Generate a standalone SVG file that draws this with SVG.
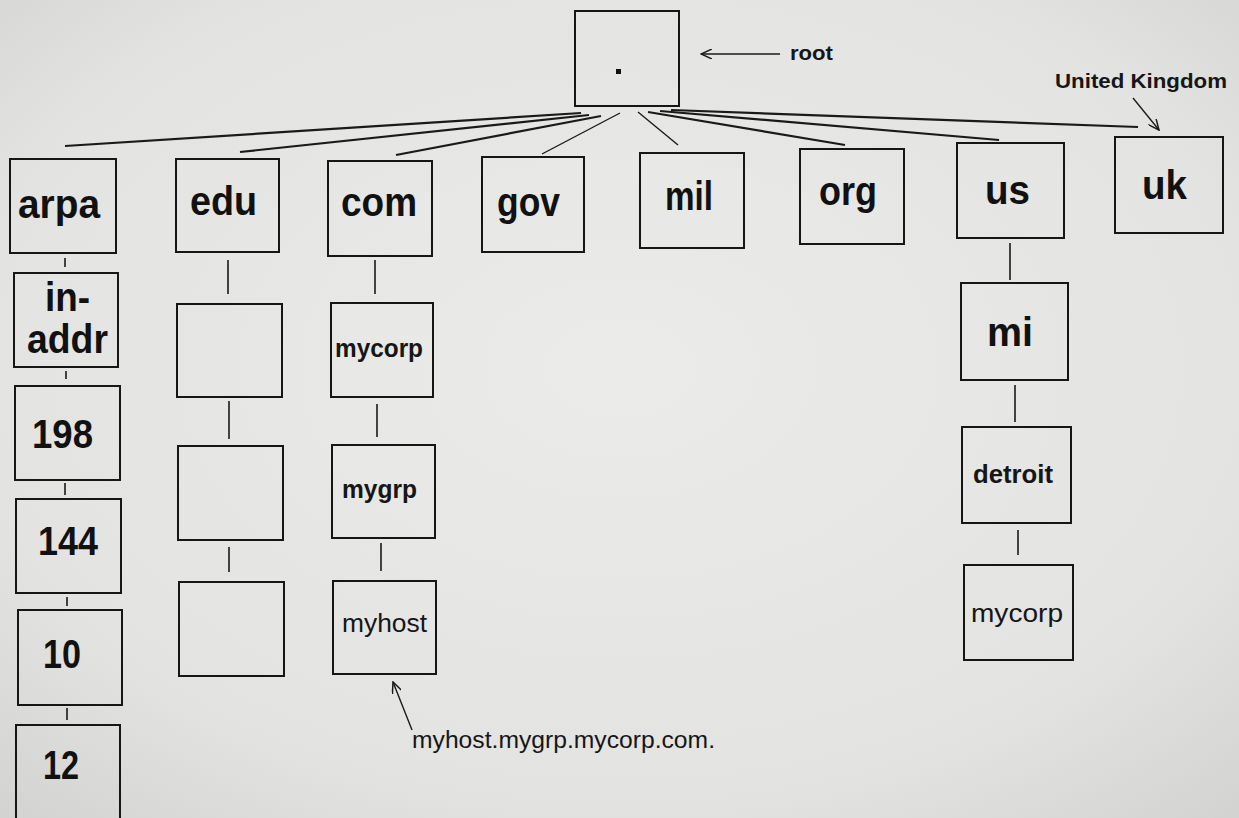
<svg xmlns="http://www.w3.org/2000/svg" width="1239" height="818" viewBox="0 0 1239 818">
  <defs>
    <radialGradient id="bg" cx="0.5" cy="0.45" r="0.75">
      <stop offset="0" stop-color="#ebebe9"/>
      <stop offset="0.7" stop-color="#e3e3e1"/>
      <stop offset="1" stop-color="#d2d2d0"/>
    </radialGradient>
    <marker id="arr" viewBox="0 0 12 10" refX="11" refY="5" markerWidth="12" markerHeight="10" markerUnits="userSpaceOnUse" orient="auto">
      <path d="M0,0 L11,5 L0,10" fill="none" stroke="#1a1a1a" stroke-width="1.5"/>
    </marker>
    <style>
      .box { fill: none; stroke: #161616; stroke-width: 2; }
      .ln { stroke: #1a1a1a; stroke-width: 2.2; fill: none; }
      .vl { stroke: #1a1a1a; stroke-width: 1.6; fill: none; }
      .an { stroke: #1a1a1a; stroke-width: 1.4; fill: none; }
      .big { font-family: "Liberation Sans", Arial, sans-serif; font-weight: bold; font-size: 41px; fill: #111; text-anchor: middle; }
      .mid { font-family: "Liberation Sans", Arial, sans-serif; font-weight: bold; font-size: 25px; fill: #161616; text-anchor: middle; }
      .reg { font-family: "Liberation Sans", Arial, sans-serif; font-weight: normal; font-size: 26px; fill: #161616; text-anchor: middle; }
      .lbl { font-family: "Liberation Sans", Arial, sans-serif; font-weight: bold; font-size: 20px; fill: #161616; }
      .lblr { font-family: "Liberation Sans", Arial, sans-serif; font-weight: normal; font-size: 23px; fill: #161616; }
    </style>
  </defs>

  <rect x="0" y="0" width="1239" height="818" fill="url(#bg)"/>

  <g id="connectors">
    <line class="ln" x1="581" y1="113" x2="65" y2="146"/>
    <line class="ln" x1="589" y1="115" x2="240" y2="152"/>
    <line class="ln" x1="601" y1="116" x2="396" y2="155"/>
    <line class="an" x1="620" y1="113" x2="542" y2="154"/>
    <line class="an" x1="638" y1="112" x2="678" y2="145"/>
    <line class="ln" x1="648" y1="112" x2="845" y2="145"/>
    <line class="ln" x1="660" y1="111" x2="999" y2="140"/>
    <line class="ln" x1="671" y1="110" x2="1138" y2="127"/>

    <line class="vl" x1="65" y1="258" x2="65" y2="267"/>
    <line class="vl" x1="66" y1="371" x2="66" y2="379"/>
    <line class="vl" x1="65" y1="483" x2="65" y2="495"/>
    <line class="vl" x1="67" y1="597" x2="67" y2="606"/>
    <line class="vl" x1="67" y1="708" x2="67" y2="720"/>

    <line class="vl" x1="228" y1="260" x2="228" y2="294"/>
    <line class="vl" x1="229" y1="401" x2="229" y2="439"/>
    <line class="vl" x1="229" y1="547" x2="229" y2="572"/>

    <line class="vl" x1="375" y1="260" x2="375" y2="294"/>
    <line class="vl" x1="377" y1="404" x2="377" y2="437"/>
    <line class="vl" x1="381" y1="543" x2="381" y2="571"/>

    <line class="vl" x1="1010" y1="243" x2="1010" y2="280"/>
    <line class="vl" x1="1015" y1="385" x2="1015" y2="422"/>
    <line class="vl" x1="1018" y1="530" x2="1018" y2="555"/>

    <line class="an" x1="780" y1="54" x2="701" y2="54" marker-end="url(#arr)"/>
    <line class="an" x1="1133" y1="98" x2="1159" y2="130" marker-end="url(#arr)"/>
    <line class="an" x1="412" y1="730" x2="393" y2="682" marker-end="url(#arr)"/>
  </g>

  <g id="root">
    <rect class="box" x="575" y="11" width="104" height="95"/>
    <rect x="616" y="69" width="5" height="5" fill="#111"/>
  </g>
  <text class="lbl" x="790" y="60" textLength="43" lengthAdjust="spacingAndGlyphs">root</text>
  <text class="lbl" x="1055" y="88" textLength="172" lengthAdjust="spacingAndGlyphs">United Kingdom</text>
  <text class="lblr" x="412" y="748" textLength="303" lengthAdjust="spacingAndGlyphs">myhost.mygrp.mycorp.com.</text>

  <g id="arpa">
    <rect class="box" x="10" y="159" width="106" height="94"/>
    <text class="big" x="59" y="218" textLength="82" lengthAdjust="spacingAndGlyphs">arpa</text>
  </g>
  <g id="edu">
    <rect class="box" x="176" y="159" width="103" height="93"/>
    <text class="big" x="223.5" y="215" textLength="67" lengthAdjust="spacingAndGlyphs">edu</text>
  </g>
  <g id="com">
    <rect class="box" x="328" y="161" width="104" height="95"/>
    <text class="big" x="379" y="216" textLength="76" lengthAdjust="spacingAndGlyphs">com</text>
  </g>
  <g id="gov">
    <rect class="box" x="482" y="157" width="102" height="95"/>
    <text class="big" x="528.5" y="216" textLength="63" lengthAdjust="spacingAndGlyphs">gov</text>
  </g>
  <g id="mil">
    <rect class="box" x="640" y="153" width="104" height="95"/>
    <text class="big" x="689" y="210" textLength="48" lengthAdjust="spacingAndGlyphs">mil</text>
  </g>
  <g id="org">
    <rect class="box" x="800" y="149" width="104" height="95"/>
    <text class="big" x="848" y="205" textLength="58" lengthAdjust="spacingAndGlyphs">org</text>
  </g>
  <g id="us">
    <rect class="box" x="957" y="143" width="107" height="95"/>
    <text class="big" x="1007.5" y="204" textLength="45" lengthAdjust="spacingAndGlyphs">us</text>
  </g>
  <g id="uk">
    <rect class="box" x="1115" y="137" width="108" height="96"/>
    <text class="big" x="1164.5" y="199" textLength="45" lengthAdjust="spacingAndGlyphs">uk</text>
  </g>

  <g id="in-addr">
    <rect class="box" x="14" y="273" width="104" height="94"/>
    <text class="big" x="67.5" y="311" textLength="45" lengthAdjust="spacingAndGlyphs">in-</text>
    <text class="big" x="67.5" y="353" textLength="81" lengthAdjust="spacingAndGlyphs">addr</text>
  </g>
  <g id="n198">
    <rect class="box" x="15" y="386" width="105" height="94"/>
    <text class="big" x="62.5" y="448" textLength="61" lengthAdjust="spacingAndGlyphs">198</text>
  </g>
  <g id="n144">
    <rect class="box" x="16" y="499" width="105" height="94"/>
    <text class="big" x="68" y="555" textLength="60" lengthAdjust="spacingAndGlyphs">144</text>
  </g>
  <g id="n10">
    <rect class="box" x="18" y="610" width="104" height="95"/>
    <text class="big" x="62" y="668" textLength="38" lengthAdjust="spacingAndGlyphs">10</text>
  </g>
  <g id="n12">
    <rect class="box" x="16" y="725" width="104" height="110"/>
    <text class="big" x="61" y="779" textLength="36" lengthAdjust="spacingAndGlyphs">12</text>
  </g>

  <g id="edu-sub1">
    <rect class="box" x="177" y="304" width="105" height="93"/>
  </g>
  <g id="edu-sub2">
    <rect class="box" x="178" y="446" width="105" height="94"/>
  </g>
  <g id="edu-sub3">
    <rect class="box" x="179" y="582" width="105" height="94"/>
  </g>

  <g id="mycorp-com">
    <rect class="box" x="331" y="303" width="102" height="94"/>
    <text class="mid" x="379" y="357" textLength="88" lengthAdjust="spacingAndGlyphs">mycorp</text>
  </g>
  <g id="mygrp">
    <rect class="box" x="332" y="445" width="103" height="93"/>
    <text class="mid" x="379.5" y="498" textLength="75" lengthAdjust="spacingAndGlyphs">mygrp</text>
  </g>
  <g id="myhost">
    <rect class="box" x="333" y="581" width="103" height="93"/>
    <text class="reg" x="384.5" y="632" textLength="85" lengthAdjust="spacingAndGlyphs">myhost</text>
  </g>

  <g id="mi">
    <rect class="box" x="961" y="283" width="107" height="97"/>
    <text class="big" x="1010" y="346" textLength="46" lengthAdjust="spacingAndGlyphs">mi</text>
  </g>
  <g id="detroit">
    <rect class="box" x="962" y="427" width="109" height="96"/>
    <text class="mid" x="1013" y="483" textLength="80" lengthAdjust="spacingAndGlyphs">detroit</text>
  </g>
  <g id="mycorp-us">
    <rect class="box" x="964" y="565" width="109" height="95"/>
    <text class="reg" x="1017" y="622" textLength="92" lengthAdjust="spacingAndGlyphs">mycorp</text>
  </g>
</svg>
